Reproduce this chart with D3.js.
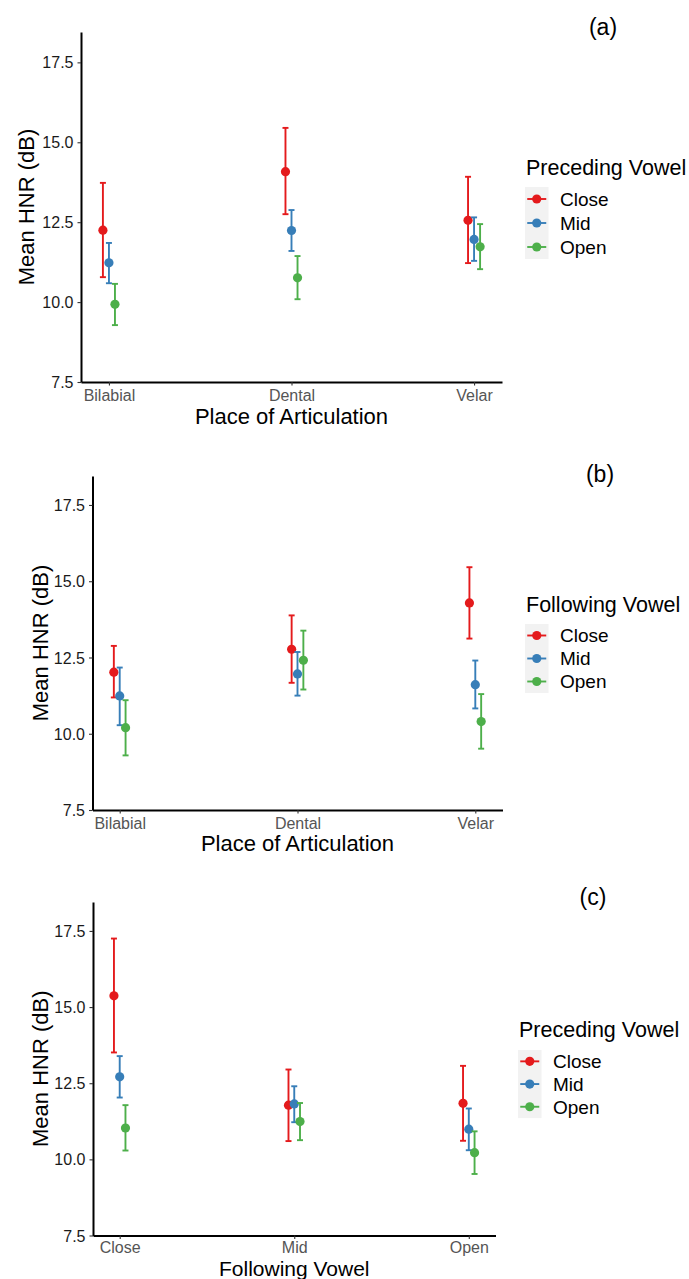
<!DOCTYPE html>
<html>
<head>
<meta charset="utf-8">
<script src="https://cdn.jsdelivr.net/npm/d3@7"></script>
<style>
  body { margin: 0; background: #fff; }
  text { font-family: "Liberation Sans", Arial, sans-serif; }
</style>
</head>
<body>
<div id="chart"></div>
<script>
// groups (legend entries) and their colours
var groups = ["Close", "Mid", "Open"];
var colors = ["#E41A1C", "#377EB8", "#4DAF4A"];

var placeCats = ["Bilabial", "Dental", "Velar"];
var followCats = ["Close", "Mid", "Open"];
var yTicks = [7.5, 10, 12.5, 15, 17.5];

// (a) rows = preceding vowel, cols = place
var aMean = [[12.25, 14.08, 12.56], [11.23, 12.24, 11.96], [9.93, 10.76, 11.73]];
var aLow  = [[10.78, 12.75, 11.22], [10.59, 11.60, 11.29], [9.28, 10.09, 11.03]];
var aHigh = [[13.73, 15.45, 13.92], [11.85, 12.88, 12.65], [10.57, 11.44, 12.44]];

// (b) rows = following vowel, cols = place
var bMean = [[12.02, 12.77, 14.29], [11.24, 11.96, 11.61], [10.20, 12.41, 10.40]];
var bLow  = [[11.19, 11.67, 13.12], [10.28, 11.25, 10.83], [9.29, 11.45, 9.51]];
var bHigh = [[12.88, 13.88, 15.46], [12.17, 12.68, 12.40], [11.10, 13.38, 11.30]];

// (c) rows = preceding vowel, cols = following vowel
var cMean = [[15.37, 11.78, 11.84], [12.71, 11.82, 10.99], [11.03, 11.24, 10.22]];
var cLow  = [[13.51, 10.60, 10.61], [12.03, 11.22, 10.30], [10.29, 10.63, 9.52]];
var cHigh = [[17.25, 12.95, 13.07], [13.39, 12.40, 11.67], [11.78, 11.85, 10.92]];

var svg = d3.select("#chart").append("svg")
  .attr("width", 689)
  .attr("height", 1279);

// panel layout
var panels = [
  {cats: placeCats, mean: aMean, low: aLow, high: aHigh, tag: "(a)",
   xTitle: "Place of Articulation", legTitle: "Preceding Vowel",
   left: 81, right: 502, top: 32, bottom: 382, xTitleY: 424, xTitleSize: 22, tickPad: 4, yTitleX: 34,
   tagX: 603, tagY: 35, legX: 525, legTitleY: 175, keyTop: 187, keyH: 24},
  {cats: placeCats, mean: bMean, low: bLow, high: bHigh, tag: "(b)",
   xTitle: "Place of Articulation", legTitle: "Following Vowel",
   left: 92.5, right: 502.5, top: 476, bottom: 810, xTitleY: 851, xTitleSize: 22, tickPad: 4, yTitleX: 47.5,
   tagX: 600, tagY: 482, legX: 525, legTitleY: 612, keyTop: 624, keyH: 23},
  {cats: followCats, mean: cMean, low: cLow, high: cHigh, tag: "(c)",
   xTitle: "Following Vowel", legTitle: "Preceding Vowel",
   left: 93, right: 495.5, top: 902, bottom: 1235.5, xTitleY: 1275.5, xTitleSize: 21, tickPad: 2.5, yTitleX: 48,
   tagX: 593, tagY: 905, legX: 518, legTitleY: 1037, keyTop: 1050, keyH: 22.7}
];

panels.forEach(function(p) {
  var g = svg.append("g");

  var x = d3.scalePoint()
    .domain(p.cats)
    .range([p.left, p.right])
    .padding(0.153);

  var y = d3.scaleLinear()
    .domain([7.5, 18.45])
    .range([p.bottom, p.top]);

  var dodge = x.step() * 0.033;

  // axes
  var yAxis = g.append("g")
    .attr("transform", `translate(${p.left},0)`)
    .call(d3.axisLeft(y).tickValues(yTicks).tickFormat(d3.format(".1f")).tickSize(3.5).tickSizeOuter(0).tickPadding(4));
  var xAxis = g.append("g")
    .attr("transform", `translate(0,${p.bottom})`)
    .call(d3.axisBottom(x).tickSize(3.5).tickSizeOuter(0).tickPadding(p.tickPad));

  [yAxis, xAxis].forEach(function(ax) {
    ax.select(".domain").attr("stroke", "#000").attr("stroke-width", 2);
    ax.selectAll(".tick line").attr("stroke", "#333").attr("stroke-width", 1.1);
    ax.selectAll("text").style("font-size", "16px")
      .style("font-family", "Liberation Sans, Arial, sans-serif");
  });
  yAxis.selectAll("text").attr("fill", "#1a1a1a").attr("dy", "0.35em");
  xAxis.selectAll("text").attr("fill", "#555");

  // error bars and points
  groups.forEach(function(grp, gi) {
    var off = (gi - 1) * dodge;
    var col = colors[gi];
    var rows = p.cats.map(function(c, ci) {
      return {cat: c, m: p.mean[gi][ci], lo: p.low[gi][ci], hi: p.high[gi][ci]};
    });
    var eb = g.append("g").selectAll("g").data(rows).enter().append("g")
      .attr("stroke", col).attr("stroke-width", 1.9);
    eb.append("line")
      .attr("x1", d => x(d.cat) + off).attr("x2", d => x(d.cat) + off)
      .attr("y1", d => y(d.lo)).attr("y2", d => y(d.hi));
    eb.append("line")
      .attr("x1", d => x(d.cat) + off - 3).attr("x2", d => x(d.cat) + off + 3)
      .attr("y1", d => y(d.hi)).attr("y2", d => y(d.hi));
    eb.append("line")
      .attr("x1", d => x(d.cat) + off - 3).attr("x2", d => x(d.cat) + off + 3)
      .attr("y1", d => y(d.lo)).attr("y2", d => y(d.lo));
    g.append("g").selectAll("circle").data(rows).enter().append("circle")
      .attr("cx", d => x(d.cat) + off)
      .attr("cy", d => y(d.m))
      .attr("r", 4.6)
      .attr("fill", col);
  });

  // axis titles
  g.append("text")
    .attr("x", (p.left + p.right) / 2)
    .attr("y", p.xTitleY)
    .attr("text-anchor", "middle")
    .style("font-size", p.xTitleSize + "px")
    .text(p.xTitle);

  g.append("text")
    .attr("transform", `translate(${p.yTitleX},${(p.top + p.bottom) / 2}) rotate(-90)`)
    .attr("text-anchor", "middle")
    .style("font-size", "22px")
    .text("Mean HNR (dB)");

  // panel tag
  g.append("text")
    .attr("x", p.tagX)
    .attr("y", p.tagY)
    .attr("text-anchor", "middle")
    .style("font-size", "23px")
    .text(p.tag);

  // legend
  var leg = g.append("g");
  leg.append("text")
    .attr("x", p.legX + 1)
    .attr("y", p.legTitleY)
    .style("font-size", "21.5px")
    .text(p.legTitle);
  leg.append("rect")
    .attr("x", p.legX)
    .attr("y", p.keyTop)
    .attr("width", 23.5)
    .attr("height", p.keyH * 3)
    .attr("fill", "#f2f2f2");
  groups.forEach(function(grp, gi) {
    var cy = p.keyTop + p.keyH * (gi + 0.5);
    var cx = p.legX + 11.75;
    leg.append("line")
      .attr("x1", cx - 9.5).attr("x2", cx + 9.5)
      .attr("y1", cy).attr("y2", cy)
      .attr("stroke", colors[gi]).attr("stroke-width", 1.9);
    leg.append("circle")
      .attr("cx", cx).attr("cy", cy).attr("r", 4.6)
      .attr("fill", colors[gi]);
    leg.append("text")
      .attr("x", p.legX + 35)
      .attr("y", cy + 6.8)
      .style("font-size", "19px")
      .text(grp);
  });
});
</script>
</body>
</html>
